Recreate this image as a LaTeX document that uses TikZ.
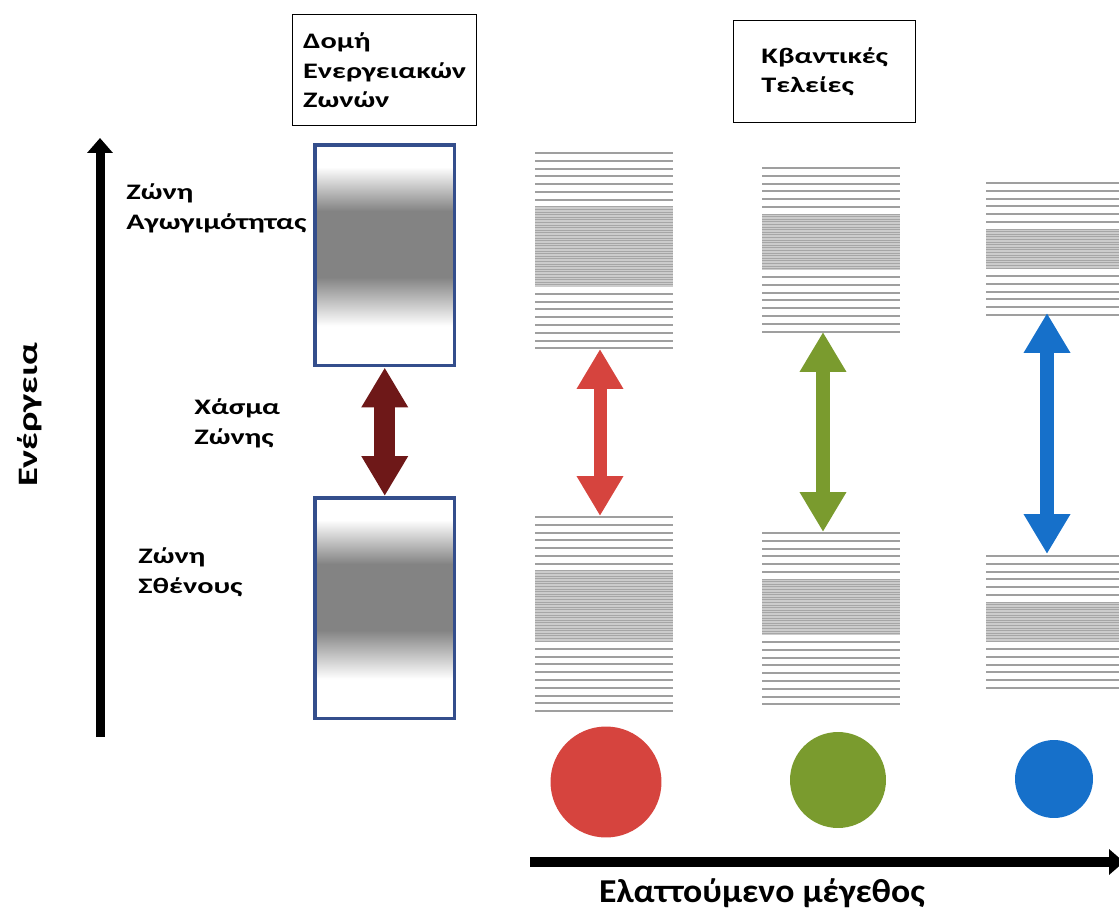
\documentclass[tikz,border=0pt]{standalone}
\usepackage{fontspec}
\setmainfont{Carlito}
\newfontfamily\widefont[FakeStretch=1.37]{Carlito}
\newfontfamily\axisfont[FakeStretch=1.07]{Carlito}
\usetikzlibrary{arrows.meta}

\definecolor{bandblue}{RGB}{52,78,140}
\definecolor{gapred}{RGB}{110,24,24}
\definecolor{qdred}{RGB}{214,68,62}
\definecolor{qdgreen}{RGB}{122,155,46}
\definecolor{qdblue}{RGB}{22,112,202}

\pgfdeclareverticalshading{bandshade}{100bp}{color(0bp)=(white); color(34bp)=(white); color(45bp)=(gray!97);
  color(60bp)=(gray!97); color(70bp)=(white); color(100bp)=(white)}

\tikzset{
  lbl/.style={anchor=north west, align=left, inner sep=0pt, font=\widefont\bfseries\fontsize{12.6}{17.5}\selectfont},
  titlebox/.style={draw, thick, anchor=north west, align=left, inner sep=4pt, font=\widefont\bfseries\fontsize{12.6}{16.6}\selectfont},
  band/.style={draw=bandblue, line width=2pt, shading=bandshade,
    minimum width=2.8cm, minimum height=4.42cm, anchor=north west},
  level/.style={gray!75, line width=1.1pt},
  denselevel/.style={gray!70, line width=0.5pt},
  bigarrow/.style={line width=0.2cm, -{Triangle[length=0.3cm,width=0.5cm]}},
  gaparrow/.style={line width=#1, {Triangle[length=0.8cm,width=0.88cm]}-{Triangle[length=0.8cm,width=0.88cm]}},
  dot/.style={circle, inner sep=0pt, minimum size=#1}
}

% one stack of levels: x0, x1, y of the top line, lines above, height of the dense part, lines below
\newcommand{\levelstack}[6]{%
  \foreach \i in {1,...,#4} \draw[level] (#1,{#3+(\i-1)*7.8}) -- (#2,{#3+(\i-1)*7.8});
  \pgfmathsetmacro{\densetop}{#3+(#4-1)*7.8+7}
  \fill[gray!40] (#1,\densetop) rectangle (#2,\densetop+#5);
  \foreach \j in {0,2.6,...,#5} \draw[denselevel] (#1,\densetop+\j) -- (#2,\densetop+\j);
  \foreach \i in {1,...,#6} \draw[level] (#1,{\densetop+#5+7+(\i-1)*7.8}) -- (#2,{\densetop+#5+7+(\i-1)*7.8});
}

\begin{document}
\begin{tikzpicture}[x=0.02cm, y=-0.02cm]
\useasboundingbox (0,0) rectangle (1119,915);

% titles
\node[titlebox, minimum width=3.68cm, minimum height=2.22cm] (tbands) at (292,14) {Δομή\\Ενεργειακών\\Ζωνών};
\node[titlebox, minimum width=3.64cm, minimum height=2.04cm] (tdots) at (733,20) {Κβαντικές\\Τελείες};

% energy axis
\node[rotate=90, font=\widefont\bfseries\fontsize{16}{19}\selectfont] (energy) at (30,415) {Ενέργεια};
\coordinate (ebot) at (100,737);
\coordinate (etop) at (100,138);
\draw[bigarrow, line width=0.18cm] (ebot) -- (etop);

% bulk bands
\node[band] (cb) at (313,143) {};
\node[band] (vb) at (313,496) {};
\draw[gaparrow=0.42cm, gapred] (cb.south) -- (vb.north);

\node[lbl] (cblabel) at (126,183) {Ζώνη\\Αγωγιμότητας};
\node[lbl] (gaplabel) at (194,398) {Χάσμα\\Ζώνης};
\node[lbl] (vblabel) at (138,547) {Ζώνη\\Σθένους};

% quantum dot levels
\levelstack{535}{673}{153}{7}{80}{8}
\levelstack{535}{673}{517}{7}{71}{9}
\levelstack{762}{900}{168}{6}{56}{8}
\levelstack{762}{900}{533}{6}{56}{9}
\levelstack{986}{1119}{183}{6}{40}{6}
\levelstack{986}{1119}{556}{6}{40}{6}

\coordinate (r1) at (600,349);
\coordinate (r2) at (600,516);
\coordinate (g1) at (823,332);
\coordinate (g2) at (823,532);
\coordinate (b1) at (1047,313);
\coordinate (b2) at (1047,554);
\draw[gaparrow=0.26cm, qdred] (r1) -- (r2);
\draw[gaparrow=0.28cm, qdgreen] (g1) -- (g2);
\draw[gaparrow=0.28cm, qdblue] (b1) -- (b2);

% dots
\node[dot=2.22cm, fill=qdred] (dotred) at (606,782) {};
\node[dot=1.92cm, fill=qdgreen] (dotgreen) at (838,780) {};
\node[dot=1.56cm, fill=qdblue] (dotblue) at (1054,779) {};

% size axis
\coordinate (sleft) at (530,862);
\coordinate (sright) at (1124,862);
\draw[bigarrow] (sleft) -- (sright);
\node[font=\axisfont\bfseries\fontsize{19}{23}\selectfont] (size) at (762,893) {Ελαττούμενο μέγεθος};
\end{tikzpicture}
\end{document}
